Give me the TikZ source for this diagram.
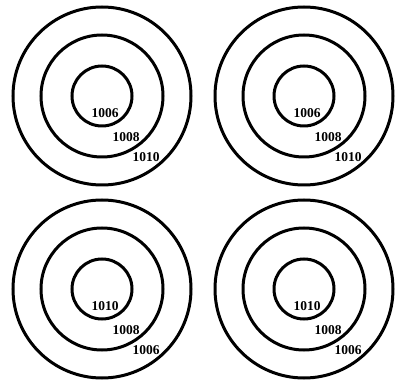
\documentclass[tikz,border=0pt]{standalone}
\usepackage{fontspec}
\setmainfont{Liberation Serif}
\usetikzlibrary{positioning}
\tikzset{
  ring/.style={draw=black,line width=3pt},
  tag/.style={font=\fontsize{13.5}{15}\selectfont\bfseries,inner sep=0pt}
}
\begin{document}
\begin{tikzpicture}[x=1pt,y=-1pt]
  \useasboundingbox (0,0) rectangle (402,390);
  \foreach \cx/\cy/\a/\b/\c [count=\i] in {102/96/1006/1008/1010, 304/96/1006/1008/1010,
      102/289/1010/1008/1006, 304/289/1010/1008/1006}{
    \coordinate (c\i) at (\cx,\cy);
    \foreach \r in {30,61,89} \draw[ring] (c\i) circle[radius=\r];
    \node[tag] (inner\i) at ([shift={(3,17)}]c\i) {\a};
    \node[tag] (mid\i) at ([shift={(24,41)}]c\i) {\b};
    \node[tag] (outer\i) at ([shift={(44,61)}]c\i) {\c};
  }
\end{tikzpicture}
\end{document}
